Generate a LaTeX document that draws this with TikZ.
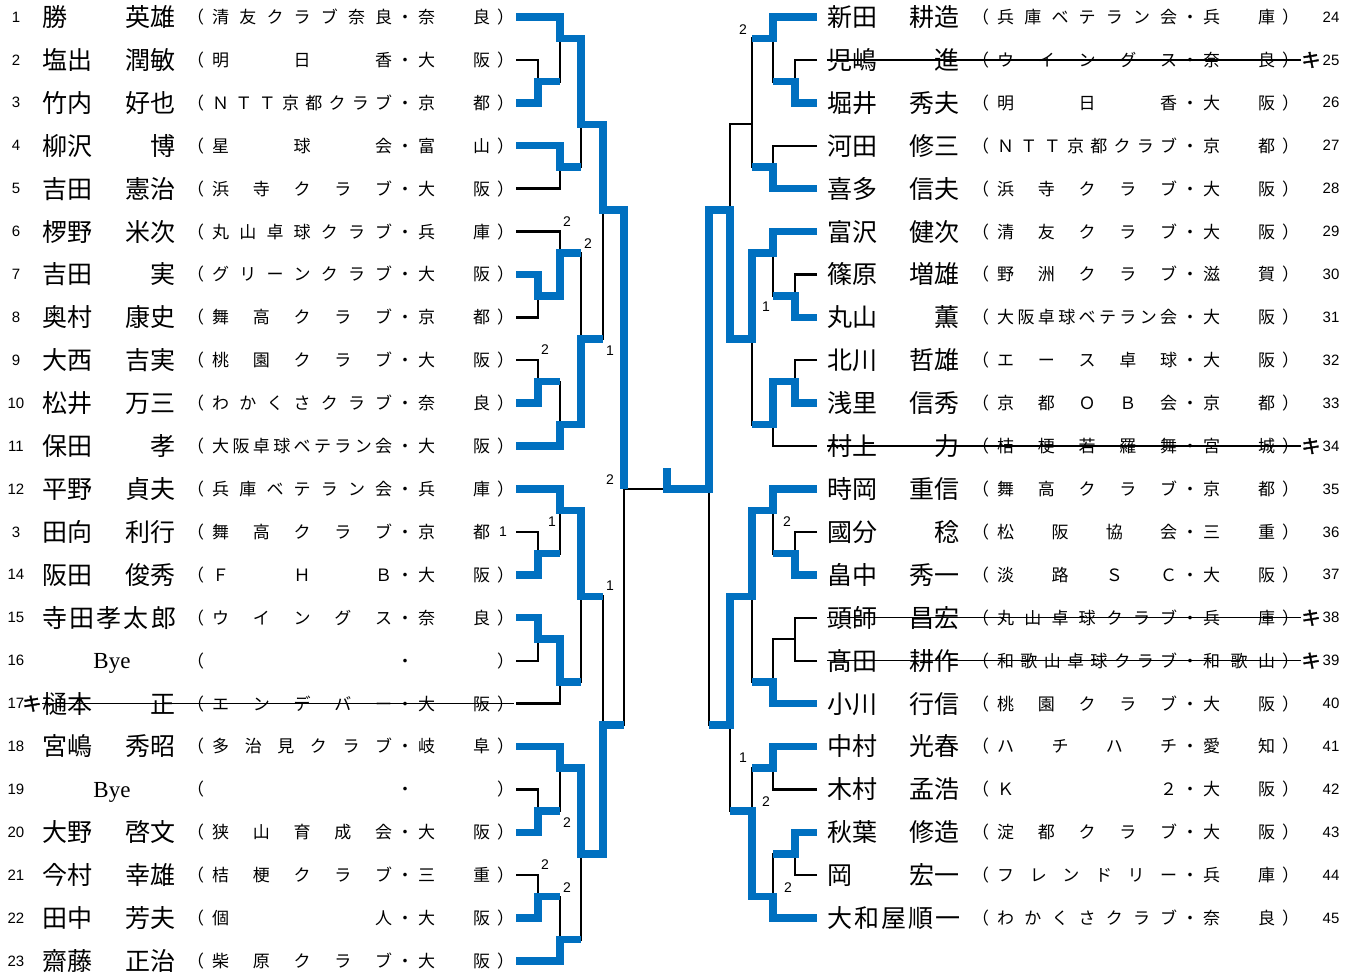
\documentclass[tikz,border=0pt]{standalone}
\usepackage{fontspec}
\setmainfont{Liberation Serif}
\newfontfamily\jpfont{Noto Sans CJK JP}
\newfontfamily\jpbold[FakeBold=2]{Noto Sans CJK JP}
\newfontfamily\numfont{Liberation Sans}
\usetikzlibrary{positioning}
\definecolor{drawblue}{RGB}{0,112,192}

% affiliation: (club・prefecture)
\newcommand{\aff}[3][）]{（\hspace{8pt}\makebox[180pt][s]{#2}\makebox[26pt][c]{・}\makebox[72pt][s]{#3}\hspace{7pt}#1}
% left rows
\newcommand{\lrow}[5]{%
  \node[num] (n#1) at (16,#1) {#1};
  \node[nm, anchor=west] (s#1) at (42,#1) {#2};
  \node[nm, anchor=east] (g#1) at (176,#1) {#3};
  \node[afl] (a#1) at (187,#1) {\aff{#4}{#5}};
  \coordinate (p#1) at (516,#1);}
\newcommand{\lfull}[4]{%
  \node[num] (n#1) at (16,#1) {#1};
  \node[nm, anchor=west] (s#1) at (42,#1) {\makebox[134pt][s]{#2}};
  \node[afl] (a#1) at (187,#1) {\aff{#3}{#4}};
  \coordinate (p#1) at (516,#1);}
\newcommand{\lbye}[1]{%
  \node[num] (n#1) at (16,#1) {#1};
  \node[byenm] (s#1) at (112,#1) {Bye};
  \node[afl] (a#1) at (187,#1) {\aff{}{}};
  \coordinate (p#1) at (516,#1);}
% right rows
\newcommand{\rrow}[5]{%
  \node[num] (n#1) at (1331,{#1-23}) {#1};
  \node[nm, anchor=west] (s#1) at (827,{#1-23}) {#2};
  \node[nm, anchor=east] (g#1) at (960,{#1-23}) {#3};
  \node[afl] (a#1) at (972,{#1-23}) {\aff{#4}{#5}};
  \coordinate (p#1) at (817,{#1-23});}
\newcommand{\rfull}[4]{%
  \node[num] (n#1) at (1331,{#1-23}) {#1};
  \node[nm, anchor=west] (s#1) at (827,{#1-23}) {\makebox[133pt][s]{#2}};
  \node[afl] (a#1) at (972,{#1-23}) {\aff{#3}{#4}};
  \coordinate (p#1) at (817,{#1-23});}

\begin{document}
\begin{tikzpicture}[x=1pt, y=-42.91pt,
    lose/.style={draw=black, line width=2.3pt},
    win/.style={draw=drawblue, line width=7.5pt},
    num/.style={font=\numfont\fontsize{15pt}{15pt}\selectfont, inner sep=0pt},
    nm/.style={font=\jpfont\fontsize{25pt}{25pt}\selectfont, inner sep=0pt, text height=22pt, text depth=3pt},
    byenm/.style={font=\fontsize{23pt}{23pt}\selectfont, inner sep=0pt, yshift=-3pt},
    afl/.style={font=\jpfont\fontsize{17pt}{17pt}\selectfont, inner sep=0pt, anchor=west, text height=15pt, text depth=2pt},
    score/.style={font=\numfont\fontsize{14pt}{14pt}\selectfont, inner sep=0pt},
    kimark/.style={font=\jpbold\fontsize{19pt}{19pt}\selectfont, inner sep=0pt},
    strike/.style={draw=black, line width=1.5pt}
]
\useasboundingbox (0,0.6038) rectangle (1355,23.372);

% left block
\lrow{1}{勝}{英雄}{清 友 ク ラ ブ 奈 良}{奈 良}
\lrow{2}{塩出}{潤敏}{明 日 香}{大 阪}
\lrow{3}{竹内}{好也}{Ｎ Ｔ Ｔ 京 都 ク ラ ブ}{京 都}
\lrow{4}{柳沢}{博}{星 球 会}{富 山}
\lrow{5}{吉田}{憲治}{浜 寺 ク ラ ブ}{大 阪}
\lrow{6}{椤野}{米次}{丸 山 卓 球 ク ラ ブ}{兵 庫}
\lrow{7}{吉田}{実}{グ リ ー ン ク ラ ブ}{大 阪}
\lrow{8}{奥村}{康史}{舞 高 ク ラ ブ}{京 都}
\lrow{9}{大西}{吉実}{桃 園 ク ラ ブ}{大 阪}
\lrow{10}{松井}{万三}{わ か く さ ク ラ ブ}{奈 良}
\lrow{11}{保田}{孝}{大\hfil 阪\hfil 卓\hfil 球\hfil ベ\hfil テ\hfil ラ\hfil ン\hfil 会}{大 阪}
\lrow{12}{平野}{貞夫}{兵 庫 ベ テ ラ ン 会}{兵 庫}
\node[num] (n13) at (16,13) {3};
\node[nm, anchor=west] (s13) at (42,13) {田向};
\node[nm, anchor=east] (g13) at (176,13) {利行};
\node[afl] (a13) at (187,13) {\aff[\phantom{）}]{舞 高 ク ラ ブ}{京 都}};
\coordinate (p13) at (516,13);
\lrow{14}{阪田}{俊秀}{Ｆ Ｈ Ｂ}{大 阪}
\lfull{15}{寺\hfil 田\hfil 孝\hfil 太\hfil 郎}{ウ イ ン グ ス}{奈 良}
\lbye{16}
\lrow{17}{樋本}{正}{エ ン デ バ ー}{大 阪}
\lrow{18}{宮嶋}{秀昭}{多 治 見 ク ラ ブ}{岐 阜}
\lbye{19}
\lrow{20}{大野}{啓文}{狭 山 育 成 会}{大 阪}
\lrow{21}{今村}{幸雄}{桔 梗 ク ラ ブ}{三 重}
\lrow{22}{田中}{芳夫}{個 人}{大 阪}
\lrow{23}{齋藤}{正治}{柴 原 ク ラ ブ}{大 阪}
\node[kimark] (k17) at (32,17) {キ};
\draw[strike] (s17.west) -- (a17.east);

% right block
\rrow{24}{新田}{耕造}{兵 庫 ベ テ ラ ン 会}{兵 庫}
\rrow{25}{児嶋}{進}{ウ イ ン グ ス}{奈 良}
\rrow{26}{堀井}{秀夫}{明 日 香}{大 阪}
\rrow{27}{河田}{修三}{Ｎ Ｔ Ｔ 京 都 ク ラ ブ}{京 都}
\rrow{28}{喜多}{信夫}{浜 寺 ク ラ ブ}{大 阪}
\rrow{29}{富沢}{健次}{清 友 ク ラ ブ}{大 阪}
\rrow{30}{篠原}{増雄}{野 洲 ク ラ ブ}{滋 賀}
\rrow{31}{丸山}{薫}{大\hfil 阪\hfil 卓\hfil 球\hfil ベ\hfil テ\hfil ラ\hfil ン\hfil 会}{大 阪}
\rrow{32}{北川}{哲雄}{エ ー ス 卓 球}{大 阪}
\rrow{33}{浅里}{信秀}{京 都 Ｏ Ｂ 会}{京 都}
\rrow{34}{村上}{力}{桔 梗 若 羅 舞}{宮 城}
\rrow{35}{時岡}{重信}{舞 高 ク ラ ブ}{京 都}
\rrow{36}{國分}{稔}{松 阪 協 会}{三 重}
\rrow{37}{畠中}{秀一}{淡 路 Ｓ Ｃ}{大 阪}
\rrow{38}{頭師}{昌宏}{丸 山 卓 球 ク ラ ブ}{兵 庫}
\rrow{39}{髙田}{耕作}{和 歌 山 卓 球 ク ラ ブ}{和 歌 山}
\rrow{40}{小川}{行信}{桃 園 ク ラ ブ}{大 阪}
\rrow{41}{中村}{光春}{ハ チ ハ チ}{愛 知}
\rrow{42}{木村}{孟浩}{Ｋ ２}{大 阪}
\rrow{43}{秋葉}{修造}{淀 都 ク ラ ブ}{大 阪}
\rrow{44}{岡}{宏一}{フ レ ン ド リ ー}{兵 庫}
\rfull{45}{大\hfil 和\hfil 屋\hfil 順\hfil 一}{わ か く さ ク ラ ブ}{奈 良}
\node[kimark] (k25) at (1311,2) {キ};
\node[kimark] (k34) at (1311,11) {キ};
\node[kimark] (k38) at (1311,15) {キ};
\node[kimark] (k39) at (1311,16) {キ};
\draw[strike] (s25.west) -- (k25.west);
\draw[strike] (s34.west) -- (k34.west);
\draw[strike] (s38.west) -- (k38.west);
\draw[strike] (s39.west) -- (k39.west);

% match points, left half
\coordinate (L1) at (538,2.5);
\coordinate (L2) at (560,1.5);
\coordinate (L3) at (560,4.5);
\coordinate (L4) at (581,3.5);
\coordinate (L5) at (538,7.5);
\coordinate (L6) at (560,6.5);
\coordinate (L7) at (538,9.5);
\coordinate (L8) at (560,10.5);
\coordinate (L9) at (581,8.5);
\coordinate (L10) at (603,5.5);
\coordinate (L11) at (538,13.5);
\coordinate (L12) at (560,12.5);
\coordinate (L13) at (538,15.5);
\coordinate (L14) at (560,16.5);
\coordinate (L15) at (581,14.5);
\coordinate (L16) at (538,19.5);
\coordinate (L17) at (560,18.5);
\coordinate (L18) at (538,21.5);
\coordinate (L19) at (560,22.5);
\coordinate (L20) at (581,20.5);
\coordinate (L21) at (603,17.5);
\coordinate (L22) at (624,12);
% final
\coordinate (F) at (667,12);
\coordinate (champ) at (667,11.5);
% match points, right half
\coordinate (R1) at (795,2.5);
\coordinate (R2) at (773,1.5);
\coordinate (R3) at (773,4.5);
\coordinate (R4) at (752,3.5);
\coordinate (R5) at (795,7.5);
\coordinate (R6) at (773,6.5);
\coordinate (R7) at (795,9.5);
\coordinate (R8) at (773,10.5);
\coordinate (R9) at (752,8.5);
\coordinate (R10) at (730,5.5);
\coordinate (R11) at (795,13.5);
\coordinate (R12) at (773,12.5);
\coordinate (R13) at (795,15.5);
\coordinate (R14) at (773,16.5);
\coordinate (R15) at (752,14.5);
\coordinate (R16) at (773,18.5);
\coordinate (R17) at (795,20.5);
\coordinate (R18) at (773,21.5);
\coordinate (R19) at (752,19.5);
\coordinate (R20) at (730,17.5);
\coordinate (R21) at (709,12);

% bracket lines
\draw[lose] (p2) -| (L1) (p3) -| (L1);
\draw[lose] (p1) -| (L2) (L1) -| (L2);
\draw[lose] (p4) -| (L3) (p5) -| (L3);
\draw[lose] (L2) -| (L4) (L3) -| (L4);
\draw[lose] (p7) -| (L5) (p8) -| (L5);
\draw[lose] (p6) -| (L6) (L5) -| (L6);
\draw[lose] (p9) -| (L7) (p10) -| (L7);
\draw[lose] (L7) -| (L8) (p11) -| (L8);
\draw[lose] (L6) -| (L9) (L8) -| (L9);
\draw[lose] (L4) -| (L10) (L9) -| (L10);
\draw[lose] (p13) -| (L11) (p14) -| (L11);
\draw[lose] (p12) -| (L12) (L11) -| (L12);
\draw[lose] (p15) -| (L13) (p16) -| (L13);
\draw[lose] (L13) -| (L14) (p17) -| (L14);
\draw[lose] (L12) -| (L15) (L14) -| (L15);
\draw[lose] (p19) -| (L16) (p20) -| (L16);
\draw[lose] (p18) -| (L17) (L16) -| (L17);
\draw[lose] (p21) -| (L18) (p22) -| (L18);
\draw[lose] (L18) -| (L19) (p23) -| (L19);
\draw[lose] (L17) -| (L20) (L19) -| (L20);
\draw[lose] (L15) -| (L21) (L20) -| (L21);
\draw[lose] (L10) -| (L22) (L21) -| (L22);
\draw[lose] (L22) -- (F) (R21) -- (F);
\draw[lose] (p25) -| (R1) (p26) -| (R1);
\draw[lose] (p24) -| (R2) (R1) -| (R2);
\draw[lose] (p27) -| (R3) (p28) -| (R3);
\draw[lose] (R2) -| (R4) (R3) -| (R4);
\draw[lose] (p30) -| (R5) (p31) -| (R5);
\draw[lose] (p29) -| (R6) (R5) -| (R6);
\draw[lose] (p32) -| (R7) (p33) -| (R7);
\draw[lose] (R7) -| (R8) (p34) -| (R8);
\draw[lose] (R6) -| (R9) (R8) -| (R9);
\draw[lose] (R4) -| (R10) (R9) -| (R10);
\draw[lose] (p36) -| (R11) (p37) -| (R11);
\draw[lose] (p35) -| (R12) (R11) -| (R12);
\draw[lose] (p38) -| (R13) (p39) -| (R13);
\draw[lose] (R13) -| (R14) (p40) -| (R14);
\draw[lose] (R12) -| (R15) (R14) -| (R15);
\draw[lose] (p41) -| (R16) (p42) -| (R16);
\draw[lose] (p43) -| (R17) (p44) -| (R17);
\draw[lose] (R17) -| (R18) (p45) -| (R18);
\draw[lose] (R16) -| (R19) (R18) -| (R19);
\draw[lose] (R15) -| (R20) (R19) -| (R20);
\draw[lose] (R10) -| (R21) (R20) -| (R21);

% winners
\draw[win] (p1) -| (L2) -| (L4) -| (L10) -| (L22);
\draw[win] (p3) -| (L1) -- (L1 -| L2);
\draw[win] (p4) -| (L3) -- (L3 -| L4);
\draw[win] (p7) -| (L5) -| (L6) -- (L6 -| L9);
\draw[win] (p10) -| (L7) -- (L7 -| L8);
\draw[win] (p11) -| (L8) -| (L9) -- (L9 -| L10);
\draw[win] (p12) -| (L12) -| (L15) -- (L15 -| L21);
\draw[win] (p14) -| (L11) -- (L11 -| L12);
\draw[win] (p15) -| (L13) -| (L14) -- (L14 -| L15);
\draw[win] (p18) -| (L17) -| (L20) -| (L21) -- (L21 -| L22);
\draw[win] (p20) -| (L16) -- (L16 -| L17);
\draw[win] (p22) -| (L18) -- (L18 -| L19);
\draw[win] (p23) -| (L19) -- (L19 -| L20);
\draw[win] (p24) -| (R2) -- (R2 -| R4);
\draw[win] (p26) -| (R1) -- (R1 -| R2);
\draw[win] (p28) -| (R3) -- (R3 -| R4);
\draw[win] (p29) -| (R6) -| (R9) -| (R10) -| (R21) -- (F) -- (champ);
\draw[win] (p31) -| (R5) -- (R5 -| R6);
\draw[win] (p33) -| (R7) -| (R8) -- (R8 -| R9);
\draw[win] (p35) -| (R12) -| (R15) -| (R20) -- (R20 -| R21);
\draw[win] (p37) -| (R11) -- (R11 -| R12);
\draw[win] (p40) -| (R14) -- (R14 -| R15);
\draw[win] (p41) -| (R16) -- (R16 -| R19);
\draw[win] (p43) -| (R17) -- (R17 -| R18);
\draw[win] (p45) -| (R18) -| (R19) -- (R19 -| R20);

% game scores
\node[score] (sc1) at (567,5.78) {2};
\node[score] (sc2) at (588,6.27) {2};
\node[score] (sc3) at (545,8.76) {2};
\node[score] (sc4) at (610,8.78) {1};
\node[score] (sc5) at (610,11.79) {2};
\node[score] (sc6) at (552,12.77) {1};
\node[score] (sc7) at (503,13) {1};
\node[score] (sc8) at (610,14.26) {1};
\node[score] (sc9) at (567,19.78) {2};
\node[score] (sc10) at (545,20.76) {2};
\node[score] (sc11) at (567,21.30) {2};
\node[score] (sc12) at (743,1.30) {2};
\node[score] (sc13) at (766,7.76) {1};
\node[score] (sc14) at (787,12.77) {2};
\node[score] (sc15) at (743,18.27) {1};
\node[score] (sc16) at (766,19.29) {2};
\node[score] (sc17) at (788,21.30) {2};
\end{tikzpicture}
\end{document}
